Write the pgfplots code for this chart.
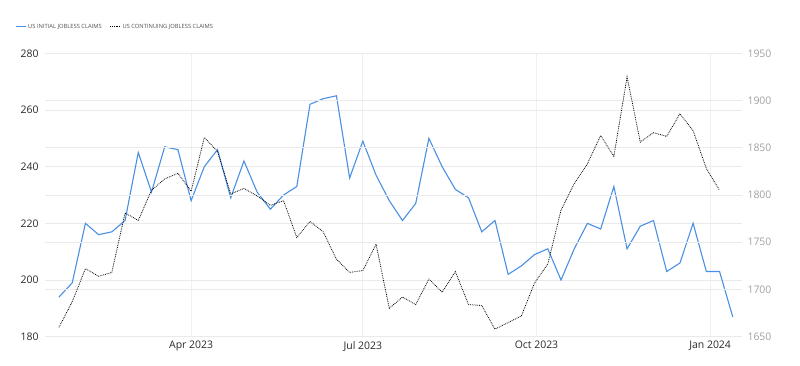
\documentclass[border=0pt]{standalone}
\usepackage{pgfplots}
\pgfplotsset{compat=1.18}
\usepackage{pgfplotstable}
\usepackage{fontspec}
\setmainfont{Open Sans}
\definecolor{tebluE}{RGB}{74,144,226}
\definecolor{gridc}{RGB}{234,234,234}
\definecolor{vgridc}{RGB}{240,240,240}
\definecolor{darktxt}{RGB}{40,40,40}
\definecolor{rtxt}{RGB}{160,160,160}
\definecolor{legtxt}{RGB}{80,80,80}

\pgfplotstableread{
x y
0 194
1 199
2 220
3 216
4 217
5 221
6 245
7 231
8 247
9 246
10 228
11 240
12 246
13 229
14 242
15 231
16 225
17 230
18 233
19 262
20 264
21 265
22 236
23 249
24 237
25 228
26 221
27 227
28 250
29 240
30 232
31 229
32 217
33 221
34 202
35 205
36 209
37 211
38 200
39 211
40 220
41 218
42 233
43 211
44 219
45 221
46 203
47 206
48 220
49 203
50 203
51 187
}\initial

\pgfplotstableread{
x y
0 1660
1 1687
2 1722
3 1714
4 1718
5 1781
6 1773
7 1805
8 1817
9 1823
10 1804
11 1861
12 1846
13 1801
14 1807
15 1799
16 1789
17 1794
18 1755
19 1772
20 1761
21 1732
22 1718
23 1720
24 1748
25 1680
26 1692
27 1684
28 1711
29 1697
30 1719
31 1684
32 1683
33 1658
34 1665
35 1672
36 1707
37 1727
38 1784
39 1812
40 1833
41 1863
42 1841
43 1925
44 1856
45 1866
46 1862
47 1886
48 1868
49 1828
50 1805
}\continuing

\begin{document}
\begin{tikzpicture}
\path[use as bounding box] (-45bp,-29.3bp) rectangle (755bp,336.7bp);
\pgfplotsset{
  common/.style={
    at={(0,0)}, anchor=south west,
    scale only axis, width=697bp, height=283.4bp,
    xmin=-1.06, xmax=51.7,
    axis line style={draw=none},
    major tick length=0pt,
    /pgf/number format/assume math mode=true,
    /pgf/number format/1000 sep={},
    ymajorgrids, major grid style={gridc, line width=0.8bp},
    clip=false,
  }
}
\begin{axis}[common,
  ymin=180, ymax=280, ytick={180,200,...,280},
  xtick={10,23,36.143,49.286},
  xticklabels={Apr 2023,Jul 2023,Oct 2023,Jan 2024},
  xmajorgrids,
  x grid style={vgridc, line width=0.8bp},
  tick label style={font=\fontsize{10.5}{12}\selectfont, text=darktxt},
  yticklabel style={xshift=-3bp},
  xticklabel style={yshift=-1bp},
]
\addplot[tebluE, line width=1.1bp, mark=none] table[x=x,y=y] {\initial};
\end{axis}
\begin{axis}[common,
  ymin=1650, ymax=1950, ytick={1650,1700,...,1950},
  xtick=\empty,
  ticklabel pos=right,
  yticklabel style={font=\fontsize{10.5}{12}\selectfont, text=rtxt, xshift=2bp},
  legend columns=2,
  legend style={draw=none, fill=none, at={(-0.043,1.094)}, anchor=west,
    font=\fontsize{5.8}{7}\selectfont, text=legtxt,
    /tikz/every even column/.append style={column sep=6bp},
    inner sep=0pt},
  legend image code/.code={\draw[#1] (0bp,0bp) -- (10bp,0bp);},
]
\addlegendimage{tebluE, line width=1bp}
\addlegendentry{US INITIAL JOBLESS CLAIMS}
\addplot[black, line width=0.8bp, densely dotted, mark=none] table[x=x,y=y] {\continuing};
\addlegendentry{US CONTINUING JOBLESS CLAIMS}
\end{axis}
\end{tikzpicture}
\end{document}
